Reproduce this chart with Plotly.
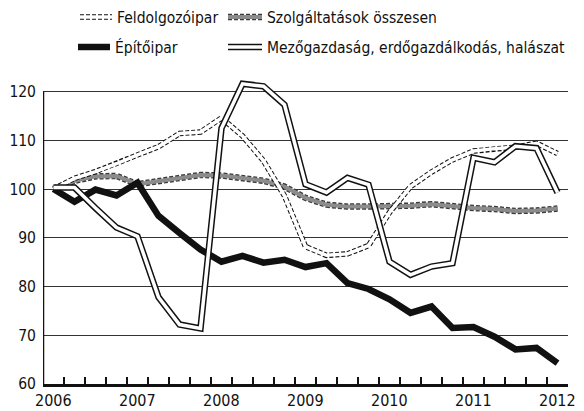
import plotly.graph_objects as go

# Quarterly index, 2006 Q1 = 100, through 2012 Q1
years = ["2006", "2007", "2008", "2009", "2010", "2011", "2012"]
quarters = list(range(25))

feldolgozoipar = [100.0, 102.2, 103.6, 105.2, 107.0, 108.7, 111.4, 111.7, 114.6, 110.9,
                  105.8, 98.6, 88.2, 86.4, 86.7, 88.4, 95.2, 100.5, 103.5, 106.0,
                  107.8, 108.3, 108.6, 109.4, 107.3]
szolgaltatasok = [100.0, 101.7, 102.6, 102.7, 101.0, 101.7, 102.2, 102.9, 102.8, 102.3,
                  101.7, 100.5, 98.2, 96.8, 96.4, 96.4, 96.4, 96.6, 96.9, 96.4,
                  96.1, 95.9, 95.5, 95.6, 96.0]
epitoipar = [100.0, 97.4, 99.9, 98.7, 101.3, 94.5, 91.0, 87.6, 85.1, 86.3,
             84.9, 85.5, 84.0, 84.8, 80.7, 79.5, 77.4, 74.6, 75.9, 71.5,
             71.7, 69.7, 67.1, 67.4, 64.3]
mezogazdasag = [100.3, 100.3, 96.1, 92.1, 90.3, 77.8, 72.2, 71.4, 112.5, 121.6,
                121.1, 117.3, 101.0, 99.3, 102.3, 100.9, 85.1, 82.4, 84.1, 84.8,
                106.4, 105.5, 108.8, 108.4, 99.3]

FONT = "DejaVu Sans Condensed, Liberation Sans Narrow, sans-serif"
INK = "#111111"

# the page body adds an 8px margin, so the figure is drawn 8px smaller
W, H = 576, 403
OFF = 8
# plot area in window pixels (used for margins and legend placement)
L, R, T, B = 43, 568, 77, 384


def px_x(px):
    return (px - L) / (R - L)


def px_y(py):
    return (B - py) / (B - T)


fig = go.Figure()


def add_line(y, color, width, dash="solid"):
    fig.add_trace(go.Scatter(
        x=quarters, y=y, mode="lines", showlegend=False, hoverinfo="skip",
        line={"color": color, "width": width, "dash": dash},
    ))


# Szolgáltatások: gray band with dashed dark edges
add_line(szolgaltatasok, "#3a3a3a", 6.5, "4px,2px")
add_line(szolgaltatasok, "#8c8c8c", 4)
# Feldolgozóipar: dashed double line
add_line(feldolgozoipar, INK, 5.5, "4px,2px")
add_line(feldolgozoipar, "white", 3.5)
# Építőipar: thick black
add_line(epitoipar, INK, 6.5)
# Mezőgazdaság: solid double line
add_line(mezogazdasag, INK, 6.5)
add_line(mezogazdasag, "white", 3.5)

# custom legend
legend_items = [
    ("Feldolgozóipar", 80, 112, 18, [(INK, 5.5, "4px,2px"), ("white", 3.5, "solid")]),
    ("Szolgáltatások összesen", 228, 262, 18, [("#3a3a3a", 6.5, "4px,2px"), ("#8c8c8c", 4, "solid")]),
    ("Építőipar", 78, 110, 48, [(INK, 6.5, "solid")]),
    ("Mezőgazdaság, erdőgazdálkodás, halászat", 228, 262, 48,
     [(INK, 6.5, "solid"), ("white", 3.5, "solid")]),
]
for label, x0, x1, yy, styles in legend_items:
    for color, width, dash in styles:
        fig.add_shape(type="line", xref="paper", yref="paper",
                      x0=px_x(x0), x1=px_x(x1), y0=px_y(yy - 1), y1=px_y(yy - 1),
                      line={"color": color, "width": width, "dash": dash})
    fig.add_annotation(text=label, xref="paper", yref="paper",
                       x=px_x(x1 + 3), y=px_y(yy), xanchor="left", yanchor="middle",
                       showarrow=False, font={"size": 15.5, "color": INK, "family": FONT})

# year labels under the first quarter of each year
for q, yr in zip(quarters[::4], years):
    fig.add_annotation(text=yr, xref="x", yref="paper", x=q, y=0,
                       xanchor="center", yanchor="top", yshift=-5, showarrow=False,
                       font={"size": 16, "color": INK, "family": FONT})

# left axis line only from 60 to 120
fig.add_shape(type="line", xref="x", yref="y", x0=-0.5, x1=-0.5, y0=60, y1=120,
              line={"color": INK, "width": 2.5})

fig.update_layout(
    width=W, height=H,
    margin={"l": L - OFF, "r": W + OFF - R, "t": T - OFF, "b": H + OFF - B},
    paper_bgcolor="white", plot_bgcolor="white",
    font={"family": FONT, "color": INK},
    showlegend=False,
    xaxis={
        "range": [-0.5, 24.5],
        "tickmode": "array",
        "tickvals": [q + 0.5 for q in quarters],
        "ticktext": ["" for _ in quarters],
        "ticks": "inside",
        "ticklen": 7,
        "tickwidth": 1.5,
        "tickcolor": INK,
        "showgrid": False,
        "zeroline": False,
        "showline": True,
        "linecolor": INK,
        "linewidth": 3,
        "automargin": False,
    },
    yaxis={
        "range": [60, 123],
        "tickmode": "array",
        "tickvals": [60, 70, 80, 90, 100, 110, 120],
        "ticks": "",
        "showgrid": True,
        "gridcolor": "#333333",
        "gridwidth": 1,
        "zeroline": False,
        "showline": False,
        "tickfont": {"size": 15.5},
        "ticklabelstandoff": 6,
        "automargin": False,
    },
)

fig.write_html("out.html")
